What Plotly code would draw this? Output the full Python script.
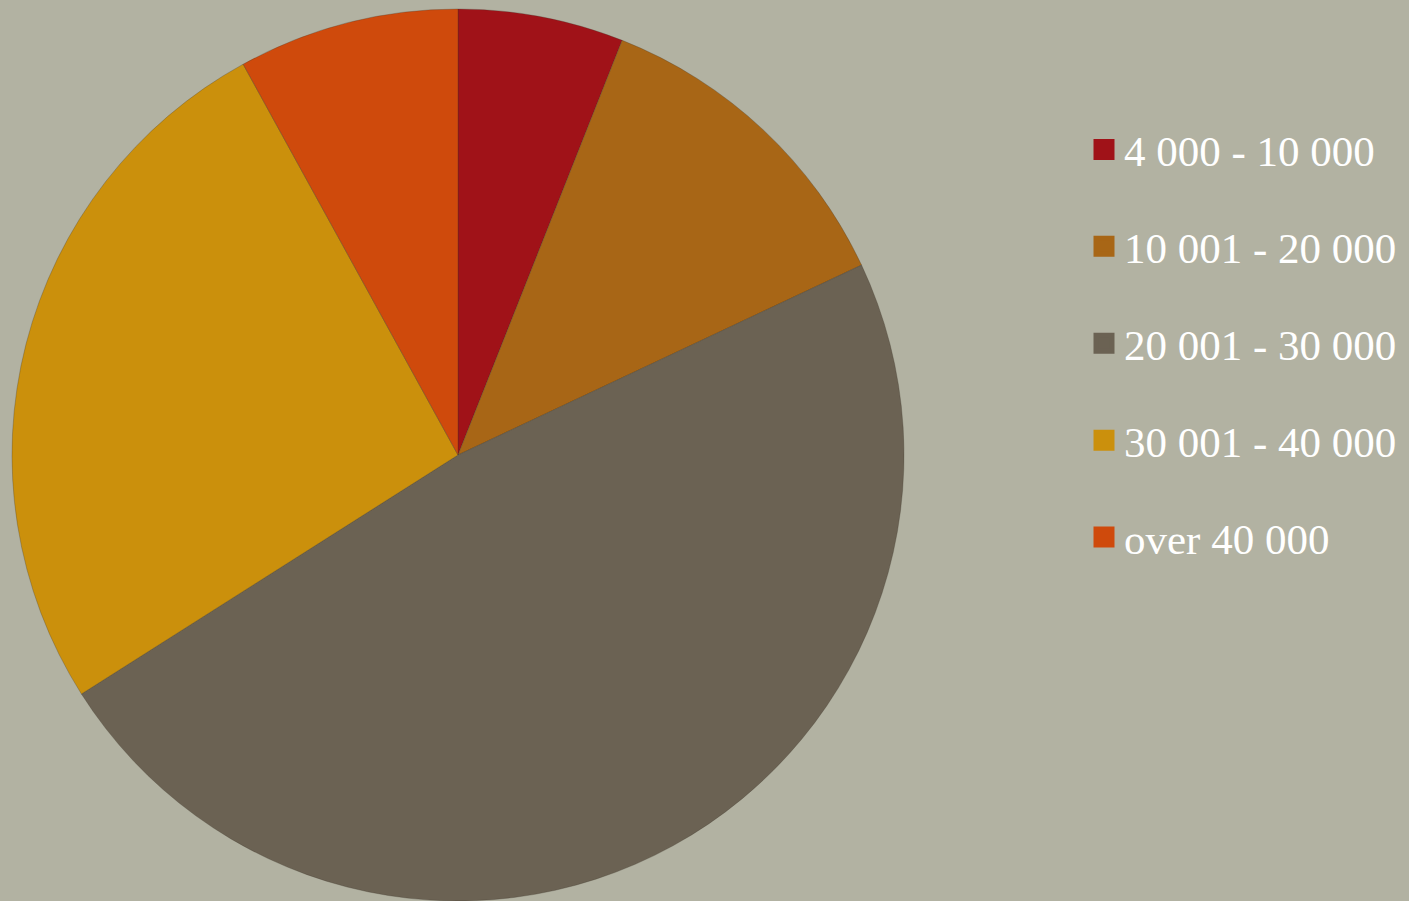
import plotly.graph_objects as go

labels = ["4 000 - 10 000", "10 001 - 20 000", "20 001 - 30 000", "30 001 - 40 000", "over 40 000"]
values = [6, 12, 48, 26, 8]
colors = ["#A01218", "#A86616", "#6B6253", "#CB900C", "#CF4A0C"]

W, H = 1409, 901
cx, cy, r = 458, 455, 446

fig = go.Figure()
fig.add_trace(go.Pie(
    labels=labels, values=values, sort=False, direction="clockwise", rotation=0,
    marker=dict(colors=colors, line=dict(color="rgba(60,50,40,0.35)", width=0.8)),
    textinfo="none", hoverinfo="label+percent", showlegend=False,
    domain=dict(x=[(cx - r) / W, (cx + r) / W], y=[(H - cy - r) / H, (H - cy + r) / H]),
))
for i, (lab, col) in enumerate(zip(labels, colors)):
    fig.add_trace(go.Scatter(
        x=[None], y=[None], mode="markers", name=lab, legendgroup=f"g{i}",
        marker=dict(symbol="square", size=30, color=col, line=dict(color=col, width=8)),
        showlegend=True,
    ))

fig.update_layout(
    width=W, height=H,
    margin=dict(l=0, r=0, t=0, b=0),
    paper_bgcolor="#B2B2A2", plot_bgcolor="rgba(0,0,0,0)",
    xaxis=dict(visible=False), yaxis=dict(visible=False),
    legend=dict(
        x=1084 / W, y=1 - 115 / H, xanchor="left", yanchor="top",
        font=dict(family="Liberation Serif", size=43, color="white"),
        bgcolor="rgba(0,0,0,0)", tracegroupgap=38, traceorder="grouped",
    ),
)
fig.write_html("out.html", config={"displayModeBar": False},
               post_script="document.body.style.margin='0';document.body.style.background='#B2B2A2';")
